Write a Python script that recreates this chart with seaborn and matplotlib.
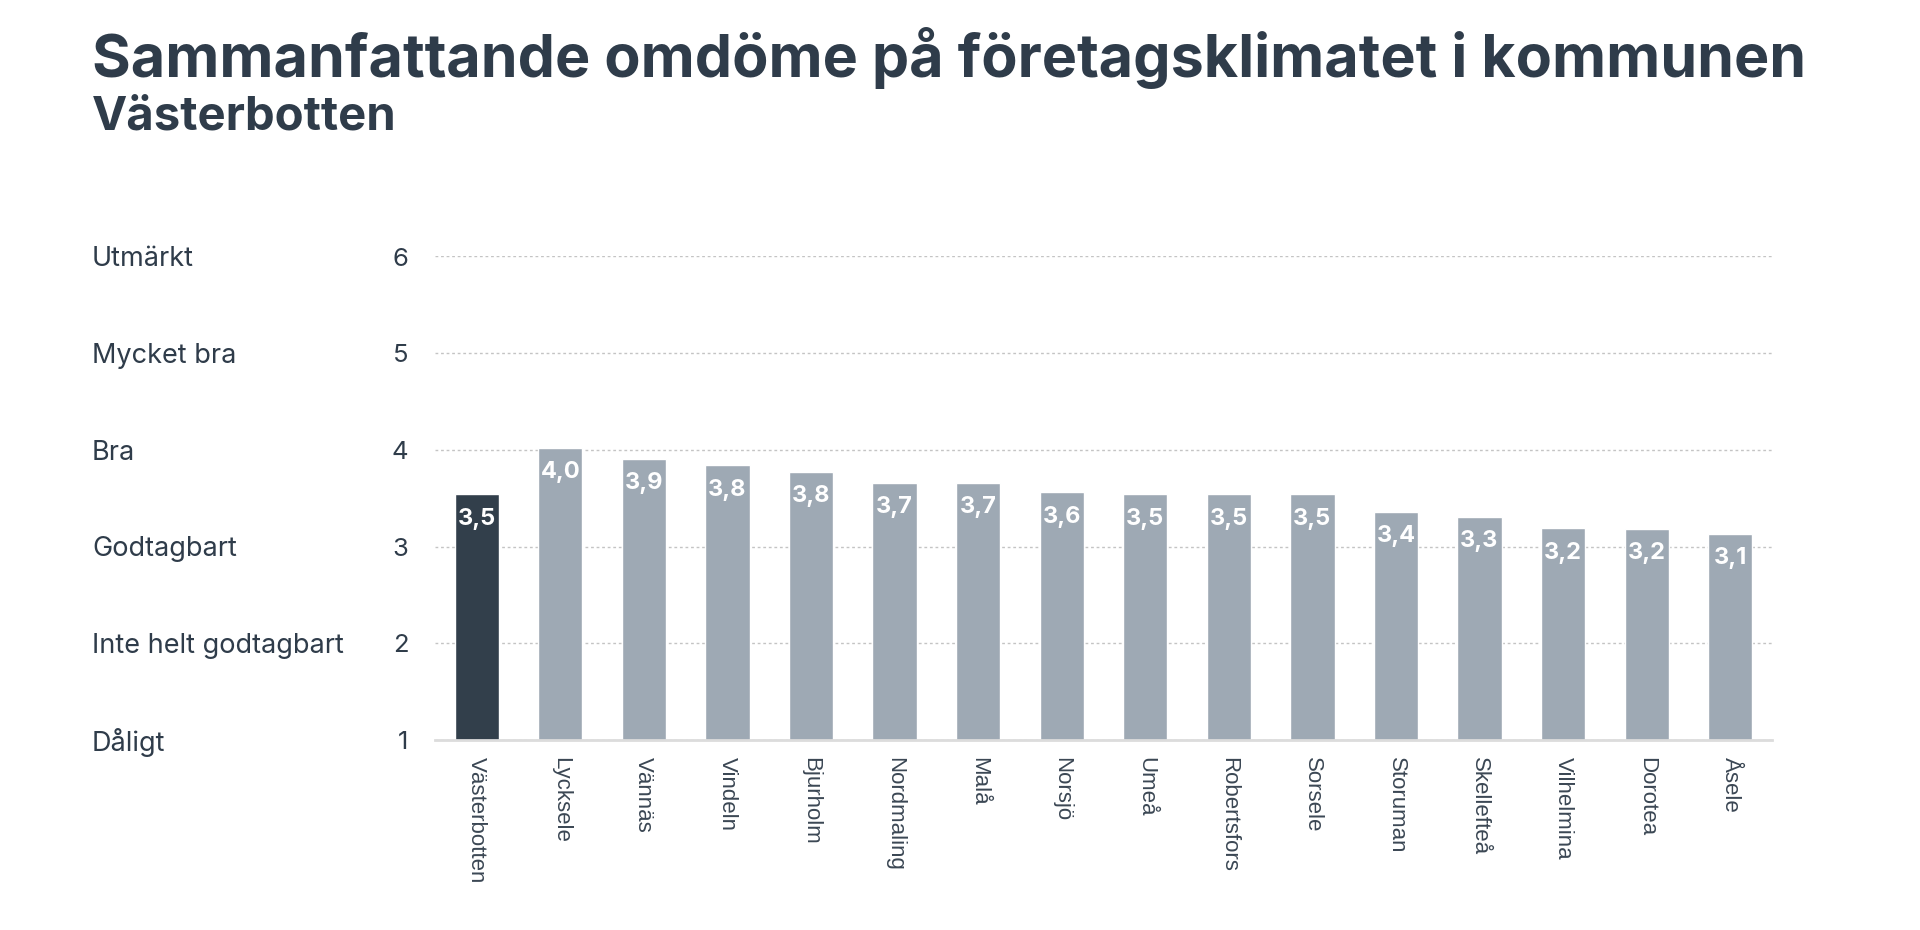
import matplotlib
matplotlib.use("Agg")
import matplotlib.pyplot as plt
import matplotlib.transforms as mtransforms
import seaborn as sns
import pandas as pd

sns.set_theme(style="white")
plt.rcParams['font.family'] = ['Inter', 'DejaVu Sans']

# data
kommuner = ["Västerbotten", "Lycksele", "Vännäs", "Vindeln", "Bjurholm", "Nordmaling",
            "Malå", "Norsjö", "Umeå", "Robertsfors", "Sorsele", "Storuman",
            "Skellefteå", "Vilhelmina", "Dorotea", "Åsele"]
omdome = [3.54, 4.02, 3.91, 3.84, 3.77, 3.66, 3.66, 3.56, 3.54, 3.54, 3.54, 3.36,
          3.31, 3.19, 3.18, 3.13]
skala = [1, 2, 3, 4, 5, 6]
skala_namn = ["Dåligt", "Inte helt godtagbart", "Godtagbart", "Bra", "Mycket bra", "Utmärkt"]

dark = "#323f4b"
grey = "#9ea9b4"
text_col = "#2f3c4a"

df = pd.DataFrame({"kommun": kommuner, "omdome": omdome})
palette = {k: (dark if i == 0 else grey) for i, k in enumerate(kommuner)}

fig = plt.figure(figsize=(19.2, 9.3), dpi=100)
ax = fig.add_axes([435 / 1920, 1 - 740 / 930, (1772 - 435) / 1920, (740 - 256.5) / 930])

sns.barplot(data=df, x="kommun", y="omdome", hue="kommun", palette=palette,
            legend=False, width=0.53, saturation=1, ax=ax, zorder=3)

ax.set_ylim(1, 6)
ax.set_xlim(-0.5, len(kommuner) - 0.5)
ax.set_yticks(skala)
ax.set_yticklabels([str(s) for s in skala], fontsize=18.5, color=text_col)
ax.tick_params(axis="y", length=0, pad=19)
ax.tick_params(axis="x", length=0, pad=12)
for lbl in ax.get_xticklabels():
    lbl.set_rotation(270)
    lbl.set_ha("center")
    lbl.set_va("top")
    lbl.set_fontsize(16)
    lbl.set_family(["Liberation Sans", "DejaVu Sans"])
    lbl.set_color("#3b4754")
ax.set_xlabel("")
ax.set_ylabel("")

ax.yaxis.grid(True, color="#c4c4c4", linestyle=(0, (2, 2)), linewidth=1, zorder=0)
for s in ["top", "right", "left"]:
    ax.spines[s].set_visible(False)
ax.spines["bottom"].set_color("#dcdcdc")
ax.spines["bottom"].set_linewidth(2)
ax.spines["bottom"].set_zorder(4)

# value labels inside the bars
for i, v in enumerate(omdome):
    ax.annotate(f"{v:.1f}".replace(".", ","), xy=(i, v), xytext=(0, -17.5),
                textcoords="offset points", ha="center", va="center",
                color="white", fontsize=17, fontweight="bold", zorder=5)

# scale names on the left
trans = mtransforms.blended_transform_factory(fig.transFigure, ax.transData)
for s, namn in zip(skala, skala_namn):
    ax.annotate(namn, xy=(92 / 1920, s), xycoords=trans, xytext=(0, -2),
                textcoords="offset points", ha="left", va="center",
                fontsize=19.5, color=text_col)

fig.text(92 / 1920, 1 - 77 / 930, "Sammanfattande omdöme på företagsklimatet i kommunen",
         ha="left", va="baseline", fontsize=42.6, fontweight="bold", color=text_col)
fig.text(92 / 1920, 1 - 130 / 930, "Västerbotten",
         ha="left", va="baseline", fontsize=34, fontweight="bold", color=text_col)

fig.savefig("out.png", dpi=100)
